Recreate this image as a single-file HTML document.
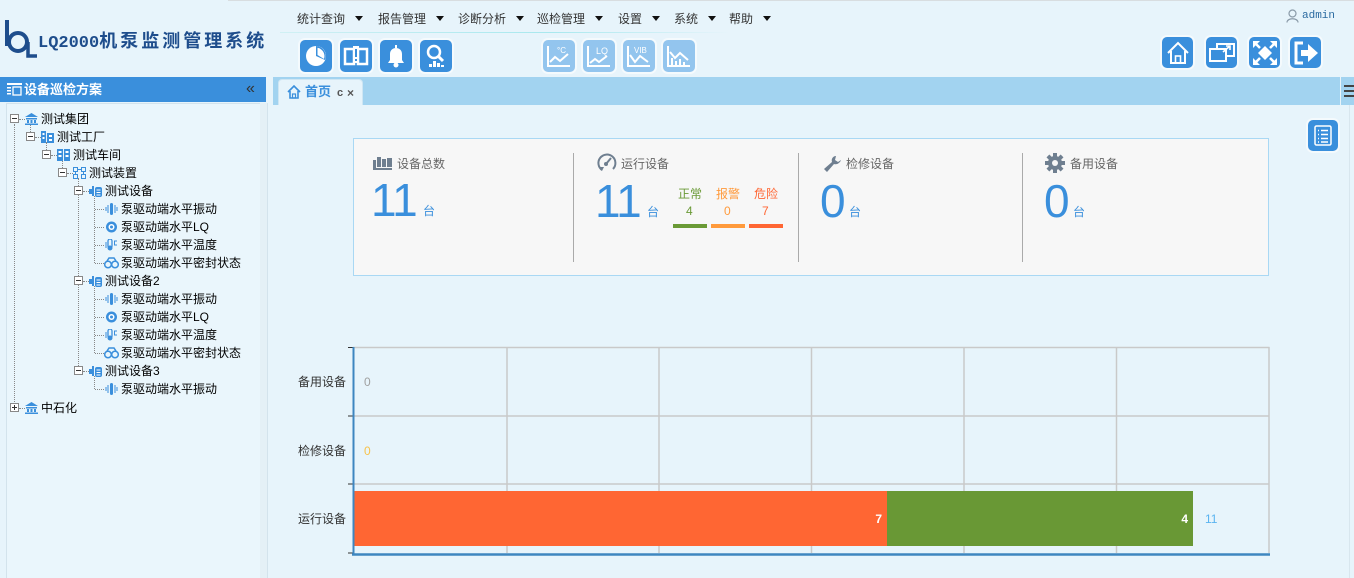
<!DOCTYPE html>
<html><head><meta charset="utf-8">
<style>
*{margin:0;padding:0;box-sizing:border-box}
body{width:1354px;height:578px;overflow:hidden;background:#e7f4fb;font-family:"Liberation Sans","Noto Sans CJK SC",sans-serif;font-size:12px;color:#000;position:relative}
.a{position:absolute;white-space:nowrap}
.menu{top:11px;height:16px;line-height:16px;font-size:12px;color:#333}
.tri{display:inline-block;width:0;height:0;border-left:4px solid transparent;border-right:4px solid transparent;border-top:5px solid #111;vertical-align:middle;margin-left:10px;margin-top:-2px}
.btn{position:absolute;width:32px;height:32px;border-radius:5px;background:#3a8fdc;box-shadow:0 0 0 2px #f4fafd}
.btn.l{background:#93c5ee}
.btn svg{position:absolute;left:0;top:0}
.tr{position:absolute;height:18px;line-height:18px;font-size:12px;color:#000}
.box{position:absolute;width:9px;height:9px;border:1px solid #888;background:#fff}
.box:after{content:"";position:absolute;left:1px;top:3px;width:5px;height:1px;background:#333}
.box.p:before{content:"";position:absolute;left:3px;top:1px;width:1px;height:5px;background:#333}
.vd{position:absolute;border-left:1px dotted #888;width:0}
.hd{position:absolute;border-top:1px dotted #888;height:0}
.ic{position:absolute;width:13px;height:12px}
.lbl{font-size:12px;color:#666}
.big{position:absolute;font-size:46px;line-height:46px;color:#3a8fdc;letter-spacing:-1px}
.tai{position:absolute;font-size:12px;color:#3a8fdc;line-height:12px}
.dv{position:absolute;top:153px;width:1px;height:109px;background:#aaa}
</style></head><body>

<!-- header top line -->
<div class="a" style="left:228px;top:0;width:1126px;height:1px;background:#d8dde0"></div>

<!-- logo -->
<svg class="a" style="left:4px;top:18px" width="34" height="42" viewBox="0 0 34 42">
<path d="M3 2 L3 28" stroke="#1e4d8c" stroke-width="4" fill="none"/>
<circle cx="14" cy="24" r="9" stroke="#1e4d8c" stroke-width="4" fill="none"/>
<path d="M24 24 L24 38 L33 38" stroke="#1e4d8c" stroke-width="3.5" fill="none"/>
</svg>
<div class="a" style="left:38px;top:29px;height:24px;line-height:24px;color:#1e4d8c;font-weight:bold"><span style="font-size:17px;font-family:'Liberation Mono','Noto Sans CJK SC',monospace;letter-spacing:0px">LQ2000</span><span style="font-size:18px;letter-spacing:3px">机泵监测管理系统</span></div>

<!-- menu -->
<div class="a menu" style="left:297px">统计查询<span class="tri"></span></div>
<div class="a menu" style="left:378px">报告管理<span class="tri"></span></div>
<div class="a menu" style="left:458px">诊断分析<span class="tri"></span></div>
<div class="a menu" style="left:537px">巡检管理<span class="tri"></span></div>
<div class="a menu" style="left:618px">设置<span class="tri"></span></div>
<div class="a menu" style="left:674px">系统<span class="tri"></span></div>
<div class="a menu" style="left:729px">帮助<span class="tri"></span></div>
<div class="a" style="left:280px;top:32px;width:450px;height:1px;background:linear-gradient(90deg,#d0f0f4,#a8e8ee 60%,#e7f4fb)"></div>

<!-- admin -->
<svg class="a" style="left:1286px;top:9px" width="13" height="14" viewBox="0 0 13 14"><circle cx="6.5" cy="4.5" r="3.5" fill="none" stroke="#8a9aa8" stroke-width="1.2"/><path d="M1 13.5 C1 8.5 12 8.5 12 13.5" fill="none" stroke="#8a9aa8" stroke-width="1.2"/></svg>
<div class="a" style="left:1302px;top:9px;font-family:'Liberation Mono',monospace;font-size:11px;line-height:14px;color:#2a6aa0">admin</div>

<!-- left buttons -->
<div class="btn" style="left:300px;top:40px"><svg width="32" height="32"><circle cx="16" cy="16" r="10" fill="#fff"/><path d="M16 16 L16 6 A10 10 0 0 1 25 20 Z" fill="#3a8fdc"/><path d="M17.5 15 L17.5 7.8 A8.5 8.5 0 0 1 24 19 Z" fill="#fff"/></svg></div>
<div class="btn" style="left:340px;top:40px"><svg width="32" height="32"><rect x="5" y="9" width="9" height="15" fill="none" stroke="#fff" stroke-width="2.5"/><rect x="18" y="9" width="9" height="15" fill="none" stroke="#fff" stroke-width="2.5"/><rect x="13" y="6" width="6" height="17" fill="#fff"/><rect x="15" y="9" width="2" height="8" fill="#3a8fdc"/><rect x="15" y="19" width="2" height="2" fill="#3a8fdc"/></svg></div>
<div class="btn" style="left:380px;top:40px"><svg width="32" height="32"><path d="M8 23 L10 20 L10 14 C10 10 13 8 16 8 C19 8 22 10 22 14 L22 20 L24 23 Z" fill="#fff"/><circle cx="16" cy="25" r="2.5" fill="#fff"/><rect x="15" y="5" width="2" height="3" fill="#fff"/></svg></div>
<div class="btn" style="left:420px;top:40px"><svg width="32" height="32"><circle cx="14" cy="12" r="6" fill="none" stroke="#fff" stroke-width="2.5"/><path d="M18 16 L23 21" stroke="#fff" stroke-width="3"/><rect x="9" y="24" width="3" height="3" fill="#fff"/><rect x="13" y="21" width="3" height="6" fill="#fff"/><rect x="17" y="23" width="3" height="4" fill="#fff"/><rect x="21" y="25" width="3" height="2" fill="#fff"/></svg></div>

<div class="btn l" style="left:543px;top:40px"><svg width="32" height="32"><path d="M5 6 L5 26 L27 26" stroke="#fff" stroke-width="2" fill="none"/><path d="M7 22 L12 17 L17 21 L25 14" stroke="#fff" stroke-width="2" fill="none"/><text x="14" y="13" font-size="8" fill="#fff" font-family="Liberation Sans">°C</text></svg></div>
<div class="btn l" style="left:583px;top:40px"><svg width="32" height="32"><path d="M5 6 L5 26 L27 26" stroke="#fff" stroke-width="2" fill="none"/><path d="M7 23 L12 19 L16 22 L24 16" stroke="#fff" stroke-width="2" fill="none"/><text x="13" y="14" font-size="9" fill="#fff" font-family="Liberation Sans">LQ</text></svg></div>
<div class="btn l" style="left:623px;top:40px"><svg width="32" height="32"><path d="M5 6 L5 26 L27 26" stroke="#fff" stroke-width="2" fill="none"/><path d="M7 15 L12 22 L17 16 L25 22" stroke="#fff" stroke-width="2" fill="none"/><text x="11" y="13" font-size="8" fill="#fff" font-family="Liberation Sans">VIB</text></svg></div>
<div class="btn l" style="left:663px;top:40px"><svg width="32" height="32"><path d="M5 6 L5 26 L27 26" stroke="#fff" stroke-width="2" fill="none"/><path d="M7 12 L12 18 L17 13 L25 20" stroke="#fff" stroke-width="2" fill="none"/><rect x="8" y="18" width="2" height="7" fill="#fff"/><rect x="12" y="21" width="2" height="4" fill="#fff"/><rect x="16" y="19" width="2" height="6" fill="#fff"/><rect x="20" y="22" width="2" height="3" fill="#fff"/></svg></div>

<!-- right buttons -->
<div class="btn" style="left:1162px;top:37px;width:31px;height:31px"><svg width="32" height="32"><path d="M6 16 L16 6 L26 16" stroke="#fff" stroke-width="2" fill="none"/><path d="M9 14 L9 26 L23 26 L23 14" stroke="#fff" stroke-width="2" fill="none"/><rect x="13.5" y="19" width="5" height="7" fill="none" stroke="#fff" stroke-width="1.6"/></svg></div>
<div class="btn" style="left:1206px;top:37px;width:31px;height:31px"><svg width="32" height="32"><rect x="4" y="12" width="16" height="12" fill="none" stroke="#fff" stroke-width="2"/><path d="M11 12 L11 7 L28 7 L28 19 L20 19" stroke="#fff" stroke-width="2" fill="none"/><path d="M17 15 L24 9 M20 9 L24 9 L24 13" stroke="#fff" stroke-width="1.6" fill="none"/></svg></div>
<div class="btn" style="left:1249px;top:37px;width:31px;height:31px"><svg width="32" height="32"><path d="M16 9 L23 16 L16 23 L9 16 Z" fill="#fff"/><path d="M4 4 L11 4 L4 11 Z M28 4 L21 4 L28 11 Z M4 28 L11 28 L4 21 Z M28 28 L21 28 L28 21 Z" fill="#fff"/><path d="M6 6 L11 11 M26 6 L21 11 M6 26 L11 21 M26 26 L21 21" stroke="#fff" stroke-width="2.5"/></svg></div>
<div class="btn" style="left:1290px;top:37px;width:31px;height:31px"><svg width="32" height="32"><path d="M13 6 L6 6 L6 26 L13 26" stroke="#fff" stroke-width="3" fill="none"/><path d="M11 13 L18 13 L18 7 L28 16 L18 25 L18 19 L11 19 Z" fill="#fff"/></svg></div>

<!-- left panel -->
<div class="a" style="left:0;top:77px;width:266px;height:25px;background:#3a8fdc"></div>
<svg class="a" style="left:7px;top:83px" width="15" height="13" viewBox="0 0 15 13"><rect x="0" y="0" width="15" height="2" fill="#fff"/><rect x="0" y="4" width="4" height="1.5" fill="#fff"/><rect x="0" y="7" width="4" height="1.5" fill="#fff"/><rect x="0" y="10" width="4" height="1.5" fill="#fff"/><rect x="6" y="4" width="8" height="8" fill="none" stroke="#fff" stroke-width="1.3"/></svg>
<div class="a" style="left:24px;top:81px;height:18px;line-height:18px;font-size:13px;font-weight:bold;color:#fff">设备巡检方案</div>
<div class="a" style="left:246px;top:79px;height:20px;line-height:20px;font-size:16px;color:#333">«</div>
<div class="a" style="left:6px;top:103px;width:255px;height:475px;background:#eaf6fc;border:1px solid #d3e3ec;border-bottom:none"></div>
<div class="a" style="left:260px;top:103px;width:8px;height:475px;background:#e4f0f6;border-right:1px solid #d3e3ec"></div>

<!-- tree lines -->
<div class="vd" style="left:14px;top:124px;height:280px"></div>
<div class="vd" style="left:30px;top:124px;height:8px"></div>
<div class="vd" style="left:46px;top:142px;height:8px"></div>
<div class="vd" style="left:62px;top:160px;height:8px"></div>
<div class="vd" style="left:78px;top:178px;height:190px"></div>
<div class="vd" style="left:94px;top:196px;height:67px"></div>
<div class="vd" style="left:94px;top:286px;height:67px"></div>
<div class="vd" style="left:94px;top:376px;height:13px"></div>
<div class="hd" style="left:19px;top:119px;width:6px"></div>
<div class="hd" style="left:35px;top:137px;width:6px"></div>
<div class="hd" style="left:51px;top:155px;width:6px"></div>
<div class="hd" style="left:67px;top:173px;width:6px"></div>
<div class="hd" style="left:83px;top:191px;width:6px"></div>
<div class="hd" style="left:83px;top:281px;width:6px"></div>
<div class="hd" style="left:83px;top:371px;width:6px"></div>
<div class="hd" style="left:19px;top:408px;width:6px"></div>
<div class="hd" style="left:95px;top:209px;width:9px"></div>
<div class="hd" style="left:95px;top:227px;width:9px"></div>
<div class="hd" style="left:95px;top:245px;width:9px"></div>
<div class="hd" style="left:95px;top:263px;width:9px"></div>
<div class="hd" style="left:95px;top:299px;width:9px"></div>
<div class="hd" style="left:95px;top:317px;width:9px"></div>
<div class="hd" style="left:95px;top:335px;width:9px"></div>
<div class="hd" style="left:95px;top:353px;width:9px"></div>
<div class="hd" style="left:95px;top:389px;width:9px"></div>

<!-- tree boxes -->
<div class="box" style="left:10px;top:114px"></div>
<div class="box" style="left:26px;top:132px"></div>
<div class="box" style="left:42px;top:150px"></div>
<div class="box" style="left:58px;top:168px"></div>
<div class="box" style="left:74px;top:186px"></div>
<div class="box" style="left:74px;top:276px"></div>
<div class="box" style="left:74px;top:366px"></div>
<div class="box p" style="left:10px;top:403px"></div>

<!-- tree icons -->
<svg class="ic" style="left:25px;top:113px" viewBox="0 0 13 12"><path d="M0 4 L6.5 0 L13 4 Z" fill="#3a8fdc"/><rect x="1" y="5" width="11" height="1.5" fill="#3a8fdc"/><rect x="2" y="7" width="2" height="3" fill="#3a8fdc"/><rect x="5.5" y="7" width="2" height="3" fill="#3a8fdc"/><rect x="9" y="7" width="2" height="3" fill="#3a8fdc"/><rect x="0" y="10.5" width="13" height="1.5" fill="#3a8fdc"/></svg>
<svg class="ic" style="left:25px;top:402px" viewBox="0 0 13 12"><path d="M0 4 L6.5 0 L13 4 Z" fill="#3a8fdc"/><rect x="1" y="5" width="11" height="1.5" fill="#3a8fdc"/><rect x="2" y="7" width="2" height="3" fill="#3a8fdc"/><rect x="5.5" y="7" width="2" height="3" fill="#3a8fdc"/><rect x="9" y="7" width="2" height="3" fill="#3a8fdc"/><rect x="0" y="10.5" width="13" height="1.5" fill="#3a8fdc"/></svg>
<svg class="ic" style="left:41px;top:131px" viewBox="0 0 13 12"><rect x="0" y="0" width="5" height="12" fill="#3a8fdc"/><rect x="6" y="2" width="7" height="10" fill="#3a8fdc"/><rect x="1.5" y="2" width="2" height="2" fill="#fff"/><rect x="1.5" y="6" width="2" height="2" fill="#fff"/><rect x="8" y="4" width="3" height="2" fill="#fff"/><rect x="8" y="8" width="3" height="2" fill="#fff"/></svg>
<svg class="ic" style="left:57px;top:149px" viewBox="0 0 13 12"><rect x="0" y="0" width="6" height="12" fill="#3a8fdc"/><rect x="7" y="0" width="6" height="12" fill="#3a8fdc"/><rect x="1.5" y="2" width="3" height="2" fill="#fff"/><rect x="1.5" y="6" width="3" height="2" fill="#fff"/><rect x="8.5" y="2" width="3" height="2" fill="#fff"/><rect x="8.5" y="6" width="3" height="2" fill="#fff"/></svg>
<svg class="ic" style="left:73px;top:167px" viewBox="0 0 13 12"><rect x="0.5" y="0.5" width="4" height="4" fill="none" stroke="#3a8fdc"/><rect x="8.5" y="0.5" width="4" height="4" fill="none" stroke="#3a8fdc"/><rect x="0.5" y="7.5" width="4" height="4" fill="none" stroke="#3a8fdc"/><rect x="8.5" y="7.5" width="4" height="4" fill="none" stroke="#3a8fdc"/><path d="M4.5 2.5 H8.5 M2.5 4.5 V7.5 M10.5 4.5 V7.5" stroke="#3a8fdc"/></svg>
<svg class="ic" style="left:89px;top:185px" viewBox="0 0 13 12"><rect x="0" y="4" width="3" height="5" fill="#3a8fdc"/><rect x="3" y="1" width="2" height="10" fill="#3a8fdc"/><rect x="6" y="2" width="7" height="10" rx="2" fill="#3a8fdc"/><path d="M7.5 5 H11.5 M7.5 7.5 H11.5 M7.5 10 H11.5" stroke="#fff"/></svg>
<svg class="ic" style="left:89px;top:275px" viewBox="0 0 13 12"><rect x="0" y="4" width="3" height="5" fill="#3a8fdc"/><rect x="3" y="1" width="2" height="10" fill="#3a8fdc"/><rect x="6" y="2" width="7" height="10" rx="2" fill="#3a8fdc"/><path d="M7.5 5 H11.5 M7.5 7.5 H11.5 M7.5 10 H11.5" stroke="#fff"/></svg>
<svg class="ic" style="left:89px;top:365px" viewBox="0 0 13 12"><rect x="0" y="4" width="3" height="5" fill="#3a8fdc"/><rect x="3" y="1" width="2" height="10" fill="#3a8fdc"/><rect x="6" y="2" width="7" height="10" rx="2" fill="#3a8fdc"/><path d="M7.5 5 H11.5 M7.5 7.5 H11.5 M7.5 10 H11.5" stroke="#fff"/></svg>

<!-- leaf icons -->
<svg class="ic" style="left:105px;top:203px" viewBox="0 0 13 12"><path d="M1 4 V8 M3 2 V10 M10 2 V10 M12 4 V8" stroke="#3a8fdc"/><rect x="5" y="0" width="3" height="12" rx="1.5" fill="#3a8fdc"/></svg>
<svg class="ic" style="left:105px;top:293px" viewBox="0 0 13 12"><path d="M1 4 V8 M3 2 V10 M10 2 V10 M12 4 V8" stroke="#3a8fdc"/><rect x="5" y="0" width="3" height="12" rx="1.5" fill="#3a8fdc"/></svg>
<svg class="ic" style="left:105px;top:383px" viewBox="0 0 13 12"><path d="M1 4 V8 M3 2 V10 M10 2 V10 M12 4 V8" stroke="#3a8fdc"/><rect x="5" y="0" width="3" height="12" rx="1.5" fill="#3a8fdc"/></svg>
<svg class="ic" style="left:105px;top:221px" viewBox="0 0 13 12"><circle cx="6.5" cy="6" r="5.5" fill="#3a8fdc"/><circle cx="6.5" cy="6" r="3" fill="#fff"/><circle cx="6.5" cy="6" r="1.5" fill="#3a8fdc"/></svg>
<svg class="ic" style="left:105px;top:311px" viewBox="0 0 13 12"><circle cx="6.5" cy="6" r="5.5" fill="#3a8fdc"/><circle cx="6.5" cy="6" r="3" fill="#fff"/><circle cx="6.5" cy="6" r="1.5" fill="#3a8fdc"/></svg>
<svg class="ic" style="left:105px;top:239px" viewBox="0 0 13 12"><rect x="3" y="0" width="4" height="9" rx="2" fill="none" stroke="#3a8fdc" stroke-width="1.3"/><circle cx="5" cy="9" r="2.5" fill="#3a8fdc"/><path d="M1 3 V9 M12 2 H9.5 V6 H12" stroke="#3a8fdc" fill="none"/></svg>
<svg class="ic" style="left:105px;top:329px" viewBox="0 0 13 12"><rect x="3" y="0" width="4" height="9" rx="2" fill="none" stroke="#3a8fdc" stroke-width="1.3"/><circle cx="5" cy="9" r="2.5" fill="#3a8fdc"/><path d="M1 3 V9 M12 2 H9.5 V6 H12" stroke="#3a8fdc" fill="none"/></svg>
<svg class="ic" style="left:104px;top:257px;width:15px" viewBox="0 0 15 12"><circle cx="4" cy="7.5" r="3.3" fill="none" stroke="#3a8fdc" stroke-width="1.5"/><circle cx="11" cy="7.5" r="3.3" fill="none" stroke="#3a8fdc" stroke-width="1.5"/><path d="M3 4 L5 1 L10 1 L12 4" stroke="#3a8fdc" stroke-width="1.5" fill="none"/></svg>
<svg class="ic" style="left:104px;top:347px;width:15px" viewBox="0 0 15 12"><circle cx="4" cy="7.5" r="3.3" fill="none" stroke="#3a8fdc" stroke-width="1.5"/><circle cx="11" cy="7.5" r="3.3" fill="none" stroke="#3a8fdc" stroke-width="1.5"/><path d="M3 4 L5 1 L10 1 L12 4" stroke="#3a8fdc" stroke-width="1.5" fill="none"/></svg>

<!-- tree text -->
<div class="tr" style="left:41px;top:110px">测试集团</div>
<div class="tr" style="left:57px;top:128px">测试工厂</div>
<div class="tr" style="left:73px;top:146px">测试车间</div>
<div class="tr" style="left:89px;top:164px">测试装置</div>
<div class="tr" style="left:105px;top:182px">测试设备</div>
<div class="tr" style="left:121px;top:200px">泵驱动端水平振动</div>
<div class="tr" style="left:121px;top:218px">泵驱动端水平LQ</div>
<div class="tr" style="left:121px;top:236px">泵驱动端水平温度</div>
<div class="tr" style="left:121px;top:254px">泵驱动端水平密封状态</div>
<div class="tr" style="left:105px;top:272px">测试设备2</div>
<div class="tr" style="left:121px;top:290px">泵驱动端水平振动</div>
<div class="tr" style="left:121px;top:308px">泵驱动端水平LQ</div>
<div class="tr" style="left:121px;top:326px">泵驱动端水平温度</div>
<div class="tr" style="left:121px;top:344px">泵驱动端水平密封状态</div>
<div class="tr" style="left:105px;top:362px">测试设备3</div>
<div class="tr" style="left:121px;top:380px">泵驱动端水平振动</div>
<div class="tr" style="left:41px;top:399px">中石化</div>

<!-- tab bar -->
<div class="a" style="left:273px;top:77px;width:1081px;height:28px;background:#a2d3f0"></div>
<div class="a" style="left:278px;top:79px;width:85px;height:26px;background:#e7f4fb;border-radius:4px 4px 0 0;border:1px solid #cfe6f3;border-bottom:none"></div>
<svg class="a" style="left:287px;top:85px" width="14" height="14" viewBox="0 0 14 14"><path d="M1 7 L7 1 L13 7" stroke="#3a8fdc" stroke-width="1.6" fill="none"/><path d="M3 6 V13 H11 V6" stroke="#3a8fdc" stroke-width="1.6" fill="none"/><rect x="5.5" y="9" width="3" height="4" fill="none" stroke="#3a8fdc" stroke-width="1.2"/></svg>
<div class="a" style="left:305px;top:83px;height:18px;line-height:18px;font-size:13px;font-weight:bold;color:#3a8fdc">首页</div>
<div class="a" style="left:337px;top:84px;height:18px;line-height:18px;font-size:11px;font-weight:bold;color:#555">c</div>
<div class="a" style="left:347px;top:84px;height:18px;line-height:18px;font-size:12px;font-weight:bold;color:#555">×</div>
<div class="a" style="left:1340px;top:77px;width:1px;height:28px;background:#e8f4fa"></div>
<div class="a" style="left:1344px;top:85px;width:10px;height:2px;background:#444"></div>
<div class="a" style="left:1344px;top:90px;width:10px;height:2px;background:#444"></div>
<div class="a" style="left:1344px;top:95px;width:10px;height:2px;background:#444"></div>
<div class="a" style="left:1349px;top:105px;width:1px;height:473px;background:#d8e6ee"></div>

<!-- list button -->
<div class="btn" style="left:1308px;top:120px;width:30px;height:31px"><svg width="30" height="31"><rect x="7" y="6" width="16" height="19" rx="1.5" fill="none" stroke="#fff" stroke-width="1.5"/><path d="M10 10.5 H11 M13 10.5 H20 M10 14.5 H11 M13 14.5 H20 M10 18.5 H11 M13 18.5 H20 M10 22 H11 M13 22 H20" stroke="#fff" stroke-width="1.5"/></svg></div>

<!-- stats box -->
<div class="a" style="left:353px;top:138px;width:916px;height:138px;background:#f7f7f7;border:1px solid #a9d8f4"></div>
<div class="dv" style="left:573px"></div>
<div class="dv" style="left:798px"></div>
<div class="dv" style="left:1022px"></div>

<svg class="a" style="left:373px;top:157px" width="19" height="13" viewBox="0 0 19 13"><rect x="0" y="3" width="3" height="10" fill="#6f7f90"/><rect x="4" y="0" width="4" height="10" fill="#6f7f90"/><rect x="9" y="2" width="4" height="8" fill="#6f7f90"/><rect x="14" y="1" width="5" height="9" fill="#6f7f90"/><rect x="3" y="11" width="16" height="2" fill="#6f7f90"/></svg>
<div class="a lbl" style="left:397px;top:155px;line-height:18px">设备总数</div>
<div class="big" style="left:371px;top:177px">11</div>
<div class="tai" style="left:423px;top:205px">台</div>

<svg class="a" style="left:596px;top:152px" width="21" height="21" viewBox="0 0 21 21"><path d="M6 18 A8.5 8.5 0 1 1 17 17" fill="none" stroke="#6f7f90" stroke-width="2"/><path d="M3 15 L6 19 L8 15" fill="#6f7f90"/><path d="M10 12 L15 6" stroke="#6f7f90" stroke-width="2"/><circle cx="10" cy="12" r="2" fill="#6f7f90"/></svg>
<div class="a lbl" style="left:621px;top:155px;line-height:18px">运行设备</div>
<div class="big" style="left:595px;top:178px">11</div>
<div class="tai" style="left:647px;top:206px">台</div>
<div class="a" style="left:678px;top:186px;line-height:16px;font-size:12px;color:#6a9a36">正常</div>
<div class="a" style="left:686px;top:203px;line-height:16px;font-size:12px;color:#6a9a36">4</div>
<div class="a" style="left:673px;top:224px;width:34px;height:4px;background:#6a9a36"></div>
<div class="a" style="left:716px;top:186px;line-height:16px;font-size:12px;color:#ff9a3c">报警</div>
<div class="a" style="left:724px;top:203px;line-height:16px;font-size:12px;color:#ff9a3c">0</div>
<div class="a" style="left:711px;top:224px;width:34px;height:4px;background:#ff9a3c"></div>
<div class="a" style="left:754px;top:186px;line-height:16px;font-size:12px;color:#ff6633">危险</div>
<div class="a" style="left:762px;top:203px;line-height:16px;font-size:12px;color:#ff6633">7</div>
<div class="a" style="left:749px;top:224px;width:34px;height:4px;background:#ff6633"></div>

<svg class="a" style="left:823px;top:155px" width="19" height="18" viewBox="0 0 19 18"><path d="M13 1 C10 1 8 4 9 7 L1 14 L4 17 L11 9 C14 10 17 8 18 5 L15 7 L12 5 L13 1 Z" fill="#6f7f90"/></svg>
<div class="a lbl" style="left:846px;top:155px;line-height:18px">检修设备</div>
<div class="big" style="left:820px;top:178px">0</div>
<div class="tai" style="left:849px;top:206px">台</div>

<svg class="a" style="left:1045px;top:153px" width="20" height="20" viewBox="0 0 20 20"><g fill="#6f7f90"><circle cx="10" cy="10" r="7"/><rect x="8" y="0" width="4" height="20"/><rect x="0" y="8" width="20" height="4"/><rect x="8" y="0" width="4" height="20" transform="rotate(45 10 10)"/><rect x="8" y="0" width="4" height="20" transform="rotate(-45 10 10)"/></g><circle cx="10" cy="10" r="3" fill="#f7f7f7"/></svg>
<div class="a lbl" style="left:1070px;top:155px;line-height:18px">备用设备</div>
<div class="big" style="left:1044px;top:178px">0</div>
<div class="tai" style="left:1073px;top:206px">台</div>

<!-- chart -->
<svg class="a" style="left:0;top:0" width="1354" height="578">
<g stroke="#c9c9c9" stroke-width="1.5" fill="none">
<path d="M353 347.5 H1269.5 M353 416 H1269.5 M353 484 H1269.5"/>
<path d="M507 347 V553 M659 347 V553 M811.5 347 V553 M964 347 V553 M1116.5 347 V553 M1269 347 V553"/>
</g>
<rect x="353" y="491" width="534" height="55" fill="#ff6633"/>
<rect x="887" y="491" width="306" height="55" fill="#699835"/>
<path d="M348 347.5 H353 M348 416 H353 M348 484 H353 M348 553 H353" stroke="#333" stroke-width="1"/>
<path d="M353.5 347 V555" stroke="#3e86c0" stroke-width="2"/>
<path d="M352 554.5 H1270" stroke="#3e86c0" stroke-width="2.5"/>
<text x="882" y="523" font-size="12" font-weight="bold" fill="#fff" text-anchor="end" font-family="Liberation Sans">7</text>
<text x="1188" y="523" font-size="12" font-weight="bold" fill="#fff" text-anchor="end" font-family="Liberation Sans">4</text>
<text x="1205" y="523" font-size="12" fill="#5ab4f0" font-family="Liberation Sans">11</text>
<text x="364" y="386" font-size="12" fill="#a0a0a0" font-family="Liberation Sans">0</text>
<text x="364" y="455" font-size="12" fill="#f7c24a" font-family="Liberation Sans">0</text>
</svg>
<div class="a" style="left:298px;top:374px;line-height:16px;font-size:12px;color:#333">备用设备</div>
<div class="a" style="left:298px;top:443px;line-height:16px;font-size:12px;color:#333">检修设备</div>
<div class="a" style="left:298px;top:511px;line-height:16px;font-size:12px;color:#333">运行设备</div>

</body></html>
